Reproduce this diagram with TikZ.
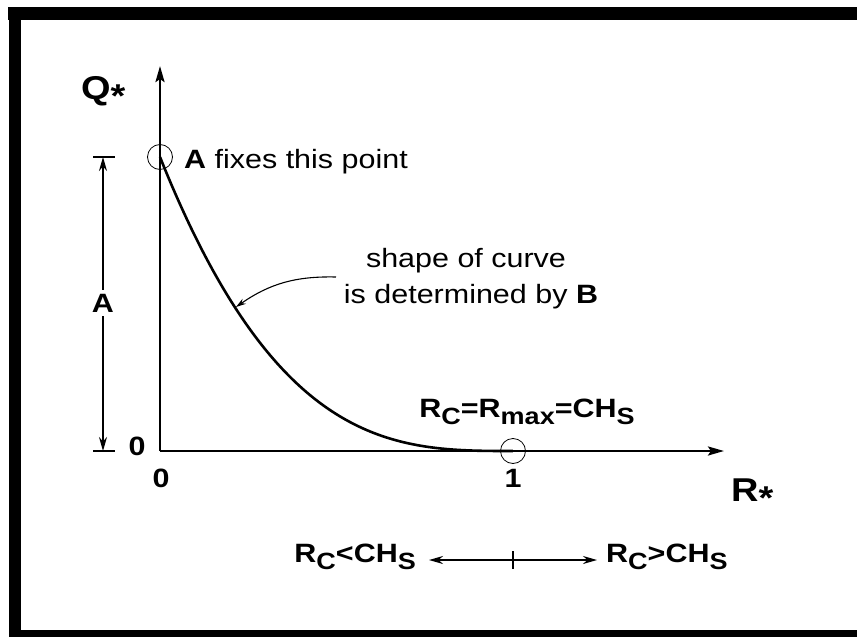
\documentclass[tikz,border=0pt]{standalone}
\usepackage{fontspec}
\setmainfont[FakeStretch=1.15]{Liberation Sans}
\usetikzlibrary{arrows.meta}
\newcommand\lowsub[1]{\raisebox{-7pt}{\fontsize{23.5}{26}\selectfont #1}}
\begin{document}
\begin{tikzpicture}[x=1pt,y=-1pt,
  axis/.style={line width=2.6pt,-{Stealth[length=16pt,width=9pt,inset=3pt]}},
  dimline/.style={line width=1.8pt},
  lbl/.style={font=\fontsize{26.5}{30}\selectfont,inner sep=0pt},
  blbl/.style={font=\fontsize{26.5}{30}\selectfont\bfseries,inner sep=0pt},
  big/.style={font=\fontsize{33}{37}\selectfont\bfseries,inner sep=0pt},
  ring/.style={circle,draw,line width=0.8pt,minimum size=25pt,inner sep=0pt}]
\useasboundingbox (0,0) rectangle (857,637);
% frame
\fill (8,7) rectangle (857,20);
\fill (9,7) rectangle (21,637);
\fill (9,630) rectangle (857,637);
% axes
\coordinate (O) at (160,451);
\coordinate (ytip) at (160,66);
\coordinate (xtip) at (724,451);
\draw[axis] (O) -- (ytip);
\draw[axis] (O) -- (xtip);
% curve
\draw[line width=2.6pt] plot[domain=0:1,samples=80,smooth] ({160+353*\x},{451-294*(1-\x)^3});
% circles
\node[ring] (c1) at (160,157) {};
\node[ring] (c2) at (513,451) {};
% axis labels
\node[big,anchor=base west] (Q) at (81,99) {Q\raisebox{-8pt}{*}};
\node[big,anchor=base west] (R) at (731,501) {R\raisebox{-8pt}{*}};
\node[blbl,anchor=base] (z1) at (137,455) {0};
\node[blbl,anchor=base] (z2) at (161,487) {0};
\node[blbl,anchor=base] (one) at (513,487) {1};
% annotations
\node[lbl,anchor=base west] (fix) at (184,168) {\textbf{A} fixes this point};
\node[lbl,anchor=base] (shape1) at (466,267) {shape of curve};
\node[lbl,anchor=base] (shape2) at (471,303) {is determined by \textbf{B}};
\coordinate (cp) at (236,307);
\coordinate (tail) at (336,277);
\draw[line width=1.1pt,-{Stealth[length=10pt,width=6pt]}] (tail) to[bend right=18] (cp);
% equality label
\node[blbl,anchor=base] (eq) at (527,417) {R\lowsub{C}=R\lowsub{max}=CH\lowsub{S}};
% dimension A
\coordinate (dt) at (103,157);
\coordinate (db) at (103,451);
\draw[dimline] (93,157) -- (115,157);
\draw[dimline] (93,451) -- (115,451);
\draw[dimline,{Stealth[length=14pt,width=8pt]}-{Stealth[length=14pt,width=8pt]}] (dt) -- (db);
\node[blbl,fill=white,inner sep=4pt] (A) at (103,303) {A};
% bottom range
\coordinate (bl) at (429,560);
\coordinate (br) at (597,560);
\draw[line width=1.8pt,{Stealth[length=14pt,width=8pt]}-{Stealth[length=14pt,width=8pt]}] (bl) -- (br);
\draw[line width=1.3pt] (513,551) -- (513,569);
\node[blbl,anchor=base east] (lt) at (416,562) {R\lowsub{C}<CH\lowsub{S}};
\node[blbl,anchor=base west] (gt) at (606,562) {R\lowsub{C}>CH\lowsub{S}};
\end{tikzpicture}
\end{document}
